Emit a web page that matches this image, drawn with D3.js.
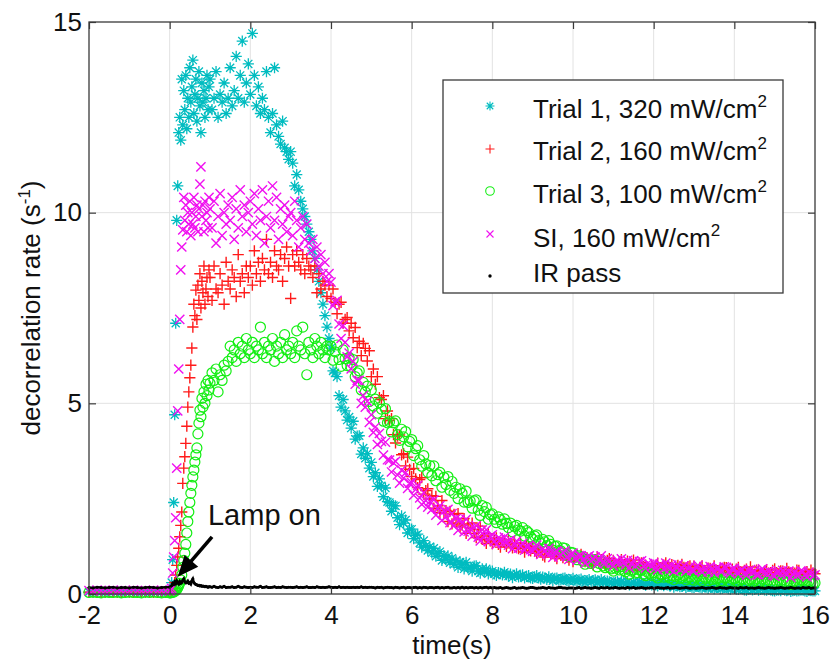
<!DOCTYPE html>
<html><head><meta charset="utf-8">
<script src="https://cdn.jsdelivr.net/npm/d3@7"></script>
<style>
body{margin:0;background:#fff}
svg{display:block}
text{font-family:"Liberation Sans",Arial,Helvetica,sans-serif;fill:#111}
</style>
</head><body>
<svg id="chart" width="834" height="660"></svg>
<script>
// ---------------- DATA ----------------
// sampling grid (s): pre-lamp, rise, plateau/decay, tail
const timePre  = d3.range(20).map(i => -2 + i * 0.1);    // -2.0 .. -0.1
const timeRise = d3.range(40).map(i => i * 0.025);       //  0.0 .. 0.975
const timeMid  = d3.range(140).map(i => 1 + i * 0.05);   //  1.0 .. 7.95
const timeTail = d3.range(161).map(i => 8 + i * 0.05);   //  8.0 .. 16.0
const time = timePre.concat(timeRise, timeMid, timeTail);

const xTickValues = [-2, 0, 2, 4, 6, 8, 10, 12, 14, 16];
const xTickLabels = ["-2", "0", "2", "4", "6", "8", "10", "12", "14", "16"];
const yTickValues = [0, 5, 10, 15];
const yTickLabels = ["0", "5", "10", "15"];

const seriesNames = ["Trial 1, 320 mW/cm", "Trial 2, 160 mW/cm", "Trial 3, 100 mW/cm", "SI, 160 mW/cm", "IR pass"];
const seriesSup   = ["2", "2", "2", "2", ""];

// Trial 1, 320 mW/cm2
const trial1 = [
  0.05,0.04,0.06,0.05,0.04,0.05,0.06,0.05,0.04,0.05,
  0.05,0.06,0.04,0.05,0.05,0.04,0.06,0.05,0.05,0.04,
  // rise 0..0.975
  0.05,0.1,0.3,0.9,2.4,4.7,7.1,9.8,10.7,12.1,
  12.5,11.9,13.5,12.3,13.2,12.7,13.6,12.2,13.0,12.5,
  13.8,12.9,13.3,14.0,12.6,13.1,13.5,12.4,13.0,13.7,
  12.8,12.1,13.4,12.9,13.2,12.5,13.0,13.6,12.7,13.3,
  // 1.0 .. 7.95
  13.5,12.7,13.0,13.7,12.5,13.1,12.9,13.4,12.6,13.0,
  13.8,12.8,13.2,14.1,13.0,13.6,14.5,12.9,13.4,13.9,
  13.1,14.7,13.6,12.8,13.3,12.6,13.0,12.7,13.7,12.5,
  12.1,12.6,13.8,12.3,12.0,11.8,12.4,11.7,11.6,11.4,
  11.6,11.3,10.7,11.0,10.6,10.3,10.1,9.9,9.7,9.5,
  9.3,9.0,8.8,8.5,8.2,7.9,7.6,7.3,7.0,6.7,
  6.45,5.85,5.8,5.7,5.2,4.9,5.1,4.8,4.56,4.64,
  4.35,4.53,4.06,4.14,4.15,3.67,3.83,3.56,3.68,3.3,
  3.45,3.08,3.18,2.82,3.02,2.84,2.55,2.78,2.42,2.4,
  2.17,2.32,2.31,2.0,1.82,2.05,1.86,1.94,1.6,1.7,
  1.7,1.45,1.54,1.57,1.34,1.23,1.4,1.26,1.14,1.24,
  1.08,1.2,0.99,1.06,1.11,0.88,1.01,0.9,1.0,0.82,
  0.94,0.78,0.87,0.7,0.84,0.78,0.66,0.83,0.68,0.7,
  0.6,0.73,0.74,0.6,0.55,0.66,0.6,0.66,0.53,0.58,
  // 8.0 .. 16.0
  0.6,0.53,0.49,0.56,0.54,0.5,0.57,0.51,0.47,0.52,0.43,0.49,0.53,0.45,0.47,0.5,0.42,0.46,0.48,0.42,
  0.41,0.45,0.48,0.42,0.39,0.44,0.42,0.38,0.45,0.4,0.35,0.41,0.42,0.36,0.37,0.41,0.42,0.35,0.34,0.38,
  0.41,0.36,0.33,0.37,0.39,0.34,0.3,0.35,0.38,0.32,0.35,0.37,0.29,0.33,0.38,0.31,0.3,0.34,0.32,0.29,
  0.26,0.31,0.33,0.28,0.33,0.29,0.27,0.31,0.24,0.28,0.3,0.26,0.27,0.31,0.31,0.26,0.23,0.28,0.27,0.24,
  0.28,0.24,0.21,0.26,0.25,0.22,0.28,0.24,0.21,0.25,0.18,0.22,0.23,0.19,0.2,0.23,0.17,0.2,0.22,0.18,
  0.17,0.2,0.22,0.18,0.16,0.2,0.18,0.15,0.2,0.17,0.14,0.17,0.18,0.14,0.15,0.18,0.18,0.14,0.13,0.16,
  0.16,0.13,0.12,0.15,0.14,0.11,0.1,0.13,0.14,0.11,0.12,0.14,0.1,0.12,0.14,0.11,0.1,0.13,0.11,0.09,
  0.08,0.1,0.11,0.09,0.12,0.1,0.09,0.11,0.07,0.09,0.1,0.08,0.09,0.11,0.11,0.08,0.07,0.1,0.09,0.08,
  0.08
];

// Trial 2, 160 mW/cm2
const trial2 = [
  0.05,0.06,0.05,0.04,0.05,0.06,0.05,0.05,0.04,0.06,
  0.05,0.04,0.05,0.06,0.05,0.05,0.04,0.05,0.06,0.05,
  0.05,0.05,0.07,0.1,0.15,0.3,0.5,0.75,0.97,1.2,
  1.5,1.8,2.15,2.9,3.3,3.6,3.95,4.4,4.9,5.3,
  5.67,6.0,6.45,7.0,7.6,7.3,7.97,7.2,8.1,7.7,
  8.4,7.5,8.2,7.9,8.6,7.6,8.0,8.3,7.8,8.5,
  8.3,7.7,8.6,8.0,7.9,8.4,8.1,7.6,8.7,8.2,
  8.0,8.5,8.3,7.8,8.9,8.2,8.4,7.9,8.6,8.3,
  8.6,8.1,9.0,8.4,8.7,8.2,8.8,8.5,9.3,8.4,
  8.7,8.3,9.0,8.6,8.5,8.9,8.2,8.8,9.1,8.6,
  7.75,8.9,8.6,9.0,8.7,8.5,8.9,8.4,8.8,8.6,
  8.5,8.3,8.6,7.9,8.4,8.0,8.2,8.1,7.8,8.1,
  7.75,8.0,7.65,7.35,7.6,7.65,7.1,7.2,7.25,6.9,
  7.1,6.72,6.99,6.46,6.63,6.25,6.57,6.44,6.11,6.38,
  5.7,5.9,5.5,5.7,5.15,5.1,5.2,4.6,4.8,4.55,
  4.6,4.18,3.96,4.14,4.17,3.65,3.68,3.36,3.59,3.27,
  3.08,3.29,3.02,2.79,3.0,3.05,2.62,2.71,2.76,2.49,
  2.58,2.25,2.56,2.31,2.14,2.45,2.12,2.19,1.9,2.17,
  1.84,2.09,1.86,2.11,1.76,1.81,1.98,1.59,1.84,1.73,
  1.86,1.59,1.48,1.69,1.78,1.43,1.52,1.33,1.58,1.39,
  1.32,1.41,1.47,1.3,1.23,1.37,1.36,1.25,1.42,1.31,1.21,1.34,1.25,1.19,1.32,1.2,1.1,1.26,1.23,1.13,
  1.25,1.12,1.07,1.18,1.15,1.02,0.97,1.1,1.15,1.06,1.17,0.99,0.93,1.06,1.01,0.95,1.05,0.96,0.89,1.0,
  0.85,0.97,1.02,0.9,1.04,0.92,0.85,0.95,0.9,0.8,0.76,0.9,0.97,0.84,0.9,0.81,0.76,0.88,0.93,0.8,
  0.88,0.78,0.71,0.85,0.9,0.76,0.79,0.86,0.7,0.8,0.89,0.74,0.7,0.81,0.82,0.72,0.76,0.69,0.63,0.75,
  0.66,0.75,0.81,0.69,0.63,0.76,0.82,0.67,0.7,0.77,0.59,0.68,0.75,0.64,0.78,0.7,0.63,0.72,0.74,0.62,
  0.73,0.64,0.58,0.7,0.74,0.62,0.56,0.68,0.67,0.59,0.74,0.63,0.52,0.66,0.62,0.7,0.69,0.57,0.56,0.65,
  0.56,0.65,0.7,0.58,0.51,0.62,0.65,0.55,0.71,0.6,0.52,0.63,0.61,0.53,0.47,0.6,0.64,0.55,0.56,0.62,
  0.66,0.56,0.5,0.61,0.6,0.52,0.67,0.58,0.47,0.57,0.55,0.63,0.62,0.51,0.44,0.56,0.59,0.53,0.63,0.55,
  0.53
];

// Trial 3, 100 mW/cm2
const trial3 = [
  0.04,0.05,0.04,0.03,0.05,0.04,0.04,0.05,0.03,0.04,
  0.05,0.04,0.04,0.03,0.05,0.04,0.05,0.04,0.03,0.04,
  0.03,0.03,0.04,0.05,0.05,0.07,0.09,0.12,0.16,0.22,
  0.28,0.37,0.5,0.7,0.88,1.07,1.3,1.6,1.9,2.15,
  2.4,2.64,2.85,3.07,3.25,3.46,3.65,3.83,4.2,4.48,
  4.82,4.65,5.13,4.9,5.3,5.0,5.5,5.2,5.6,5.35,
  5.53,5.8,5.6,5.9,5.3,5.75,5.6,6.0,5.85,6.1,
  6.5,6.2,6.4,6.1,6.6,6.3,6.5,6.2,6.7,6.4,
  6.3,6.6,6.2,6.5,6.4,7.0,6.3,6.6,6.2,6.5,
  6.4,6.7,6.1,6.5,6.3,6.6,6.2,6.8,6.4,6.5,
  6.3,6.6,6.2,6.9,6.5,6.4,7.0,6.3,5.75,6.6,
  6.4,6.2,6.7,6.5,6.3,6.6,6.4,6.2,6.5,6.4,
  6.5,6.13,6.35,6.53,6.15,5.97,6.4,6.17,5.99,6.2,
  5.95,6.15,5.7,5.8,5.85,5.35,5.55,5.3,5.45,5.05,
  5.35,4.93,5.11,4.74,5.02,4.85,4.53,4.86,4.49,4.52,
  4.25,4.49,4.54,4.18,4.03,4.32,4.12,4.26,3.86,4.0,
  4.05,3.63,3.81,3.89,3.52,3.35,3.63,3.41,3.19,3.37,
  3.1,3.36,2.97,3.13,3.19,2.8,3.06,2.87,3.08,2.72,
  2.95,2.64,2.8,2.5,2.76,2.64,2.41,2.7,2.4,2.44,
  2.25,2.44,2.47,2.2,2.06,2.32,2.16,2.27,1.96,2.08,
  2.1,1.96,1.87,2.02,1.95,1.83,1.97,1.85,1.74,1.86,1.63,1.77,1.8,1.68,1.65,1.74,1.52,1.66,1.61,1.5,
  1.44,1.52,1.55,1.4,1.32,1.43,1.37,1.27,1.4,1.3,1.15,1.25,1.26,1.14,1.13,1.21,1.2,1.06,0.99,1.09,
  1.08,0.96,0.9,1.0,0.97,0.86,0.78,0.9,0.91,0.8,0.84,0.9,0.71,0.8,0.86,0.74,0.69,0.78,0.7,0.66,
  0.6,0.68,0.72,0.63,0.72,0.62,0.58,0.66,0.52,0.6,0.63,0.55,0.56,0.63,0.62,0.52,0.48,0.57,0.54,0.49,
  0.56,0.47,0.42,0.52,0.5,0.44,0.54,0.47,0.42,0.49,0.38,0.46,0.5,0.41,0.43,0.48,0.37,0.42,0.45,0.38,
  0.36,0.43,0.47,0.39,0.34,0.44,0.41,0.35,0.44,0.38,0.31,0.4,0.41,0.33,0.35,0.42,0.42,0.34,0.32,0.39,
  0.4,0.34,0.31,0.37,0.38,0.32,0.28,0.35,0.38,0.31,0.35,0.39,0.28,0.33,0.39,0.31,0.3,0.36,0.32,0.28,
  0.27,0.33,0.36,0.3,0.37,0.32,0.29,0.35,0.25,0.31,0.34,0.28,0.3,0.36,0.35,0.29,0.26,0.33,0.31,0.27,
  0.29
];

// SI, 160 mW/cm2
const trialSI = [
  0.09,0.08,0.1,0.09,0.08,0.09,0.1,0.08,0.09,0.09,
  0.08,0.1,0.09,0.08,0.09,0.09,0.1,0.08,0.09,0.08,
  0.08,0.1,0.15,0.55,0.97,1.4,2.0,3.3,4.8,5.9,
  7.2,8.5,9.1,9.55,10.4,9.8,10.2,9.5,10.0,9.7,
  10.3,9.4,10.0,9.7,10.4,9.6,9.9,10.2,9.5,10.1,
  10.75,11.2,9.9,10.2,9.5,10.3,9.8,10.0,9.6,10.4,
  10.1,9.6,10.3,9.2,9.9,10.5,9.4,10.0,9.7,10.2,
  9.8,10.4,9.3,10.1,9.6,10.6,9.9,10.2,9.5,10.0,
  10.3,9.7,10.5,9.4,10.1,9.8,10.6,9.2,9.9,10.3,
  9.6,10.7,9.8,10.4,9.3,10.1,9.7,10.2,9.5,9.9,
  10.0,9.4,10.3,9.8,9.1,9.6,9.9,9.3,9.7,9.2,
  9.0,9.3,8.8,9.1,8.6,8.9,8.4,8.7,8.2,8.4,
  8.18,7.56,7.66,7.7,7.08,6.7,7.04,6.6,6.22,6.32,
  5.9,6.1,5.5,5.6,5.6,5.0,5.2,4.9,5.05,4.5,
  4.7,4.24,4.38,3.92,4.21,4.0,3.64,3.98,3.52,3.51,
  3.2,3.44,3.48,3.12,2.91,3.25,3.04,3.18,2.77,2.91,
  2.92,2.59,2.74,2.85,2.52,2.35,2.66,2.45,2.28,2.43,
  2.22,2.47,2.07,2.24,2.32,1.93,2.17,2.02,2.22,1.87,
  2.11,1.8,1.98,1.67,1.96,1.86,1.63,1.96,1.65,1.71,
  1.52,1.74,1.79,1.49,1.39,1.68,1.54,1.68,1.37,1.51,
  1.55,1.38,1.3,1.47,1.44,1.33,1.49,1.36,1.28,1.42,1.19,1.3,1.39,1.2,1.26,1.33,1.15,1.24,1.27,1.16,
  1.12,1.21,1.28,1.1,1.04,1.19,1.14,1.05,1.2,1.08,0.96,1.1,1.12,0.99,1.02,1.09,1.13,0.97,0.91,1.04,
  1.07,0.95,0.88,1.01,1.0,0.9,0.81,0.96,1.0,0.86,0.92,0.97,0.79,0.9,1.0,0.84,0.81,0.93,0.85,0.8,
  0.74,0.84,0.89,0.8,0.92,0.83,0.76,0.88,0.68,0.79,0.87,0.74,0.78,0.85,0.87,0.73,0.68,0.8,0.78,0.72,
  0.82,0.7,0.63,0.77,0.75,0.66,0.81,0.72,0.65,0.76,0.6,0.71,0.77,0.64,0.68,0.74,0.6,0.67,0.71,0.62,
  0.61,0.7,0.75,0.63,0.57,0.69,0.66,0.58,0.72,0.64,0.55,0.67,0.69,0.6,0.6,0.71,0.7,0.58,0.54,0.65,
  0.68,0.58,0.53,0.62,0.64,0.55,0.49,0.6,0.64,0.56,0.6,0.51,0.5,0.62,0.66,0.57,0.52,0.61,0.56,0.5,
  0.47,0.56,0.6,0.52,0.62,0.55,0.5,0.6,0.43,0.52,0.58,0.49,0.52,0.61,0.59,0.5,0.45,0.57,0.53,0.48,
  0.5
];

// IR pass
const irPass = [
  0.17,0.16,0.18,0.17,0.16,0.17,0.18,0.16,0.17,0.17,
  0.16,0.18,0.17,0.16,0.17,0.18,0.17,0.16,0.17,0.18,
  0.18,0.2,0.22,0.28,0.25,0.32,0.27,0.35,0.3,0.26,
  0.33,0.28,0.3,0.36,0.4,0.32,0.29,0.3,0.34,0.28,
  0.3,0.26,0.35,0.4,0.3,0.27,0.25,0.24,0.22,0.23,
  0.21,0.22,0.2,0.21,0.2,0.19,0.2,0.19,0.18,0.19,
  0.19,0.18,0.2,0.18,0.17,0.19,0.18,0.2,0.17,0.18,
  0.18,0.19,0.17,0.18,0.2,0.18,0.17,0.19,0.18,0.17,
  0.18,0.17,0.19,0.18,0.18,0.2,0.17,0.18,0.19,0.17,
  0.17,0.18,0.19,0.17,0.18,0.17,0.19,0.18,0.17,0.18,
  0.18,0.17,0.18,0.19,0.17,0.18,0.17,0.18,0.19,0.17,
  0.17,0.18,0.17,0.19,0.18,0.17,0.18,0.17,0.18,0.19,
  0.18,0.17,0.18,0.17,0.19,0.17,0.18,0.17,0.18,0.17,
  0.17,0.18,0.17,0.18,0.17,0.19,0.17,0.18,0.17,0.18,
  0.18,0.17,0.16,0.18,0.17,0.18,0.16,0.17,0.18,0.17,
  0.17,0.16,0.18,0.17,0.16,0.17,0.18,0.16,0.17,0.17,
  0.16,0.17,0.18,0.16,0.17,0.16,0.18,0.17,0.16,0.17,
  0.17,0.16,0.17,0.18,0.16,0.17,0.16,0.17,0.18,0.16,
  0.16,0.17,0.16,0.17,0.16,0.18,0.16,0.17,0.16,0.17,
  0.17,0.16,0.17,0.16,0.17,0.16,0.17,0.18,0.16,0.17,
  0.16,0.17,0.16,0.16,0.17,0.15,0.16,0.17,0.16,0.15,0.16,0.17,0.15,0.16,0.16,0.17,0.16,0.15,0.16,0.17,
  0.17,0.16,0.15,0.16,0.16,0.17,0.16,0.15,0.17,0.16,0.16,0.15,0.16,0.17,0.17,0.16,0.16,0.15,0.16,0.16,
  0.16,0.15,0.16,0.17,0.15,0.16,0.17,0.16,0.16,0.15,0.16,0.17,0.16,0.15,0.17,0.16,0.16,0.17,0.15,0.16,
  0.16,0.17,0.16,0.15,0.16,0.16,0.15,0.17,0.16,0.16,0.17,0.15,0.16,0.16,0.17,0.16,0.15,0.16,0.16,0.17,
  0.15,0.16,0.17,0.16,0.16,0.15,0.16,0.17,0.15,0.16,0.16,0.17,0.16,0.15,0.16,0.16,0.17,0.16,0.15,0.16,
  0.16,0.15,0.16,0.16,0.17,0.16,0.15,0.16,0.16,0.17,0.16,0.15,0.16,0.17,0.16,0.16,0.15,0.16,0.17,0.16,
  0.16,0.16,0.15,0.17,0.16,0.16,0.17,0.15,0.16,0.16,0.15,0.16,0.17,0.16,0.16,0.15,0.16,0.17,0.16,0.16,
  0.15,0.16,0.16,0.17,0.16,0.15,0.16,0.16,0.17,0.16,0.15,0.16,0.16,0.15,0.17,0.16,0.16,0.17,0.15,0.16,
  0.16
];

// annotation
const lampText = "Lamp on";
const lampArrowFrom = [1.05, 1.5];   // [time, rate]
const lampArrowTo   = [0.2, 0.45];
const lampTextAt    = [0.95, 1.8];

// ---------------- STYLE / CONFIG ----------------
const series = [
  { values: trial1,  color: "#00bcc0", marker: "star",   size: 5.6, sw: 1.3 },
  { values: trial2,  color: "#ff1a1a", marker: "plus",   size: 5.6, sw: 1.4 },
  { values: trial3,  color: "#14ee14", marker: "circle", size: 5.0, sw: 1.2 },
  { values: trialSI, color: "#f010f0", marker: "cross",  size: 4.6, sw: 1.4 },
  { values: irPass,  color: "#000000", marker: "dot",    size: 1.5, sw: 0 }
];

const plot = { left: 89, right: 815, top: 22, bottom: 594 };
const x = d3.scaleLinear().domain([-2, 16]).range([plot.left, plot.right]);
const y = d3.scaleLinear().domain([0, 15]).range([plot.bottom, plot.top]);

const svg = d3.select("#chart");

function markerPath(type, s) {
  const c = s * 0.72;
  if (type === "plus") return `M${-s},0H${s}M0,${-s}V${s}`;
  if (type === "cross") return `M${-s},${-s}L${s},${s}M${-s},${s}L${s},${-s}`;
  if (type === "star") return `M${-s},0H${s}M0,${-s}V${s}M${-c},${-c}L${c},${c}M${-c},${c}L${c},${-c}`;
  return "";
}

// grid
const grid = svg.append("g").attr("stroke", "#e2e2e2").attr("stroke-width", 1);
grid.selectAll("line.gx").data(xTickValues.slice(1, -1)).join("line")
  .attr("x1", d => x(d)).attr("x2", d => x(d)).attr("y1", plot.top).attr("y2", plot.bottom);
grid.selectAll("line.gy").data(yTickValues.slice(1, -1)).join("line")
  .attr("x1", plot.left).attr("x2", plot.right).attr("y1", d => y(d)).attr("y2", d => y(d));

// data
const dataG = svg.append("g");
series.forEach(s => {
  const pts = time.map((t, i) => [t, s.values[i]]).filter(d => d[1] != null);
  const g = dataG.append("g");
  if (s.marker === "circle") {
    g.attr("fill", "none").attr("stroke", s.color).attr("stroke-width", s.sw)
      .selectAll("circle").data(pts).join("circle")
      .attr("cx", d => x(d[0])).attr("cy", d => y(d[1])).attr("r", s.size);
  } else if (s.marker === "dot") {
    g.append("path").datum(pts)
      .attr("fill", "none").attr("stroke", s.color).attr("stroke-width", 2.4)
      .attr("d", d3.line().x(d => x(d[0])).y(d => y(d[1])));
    g.attr("fill", s.color).selectAll("circle").data(pts).join("circle")
      .attr("cx", d => x(d[0])).attr("cy", d => y(d[1])).attr("r", s.size);
  } else {
    const p = markerPath(s.marker, s.size);
    g.attr("fill", "none").attr("stroke", s.color).attr("stroke-width", s.sw)
      .selectAll("path").data(pts).join("path")
      .attr("d", p).attr("transform", d => `translate(${x(d[0])},${y(d[1])})`);
  }
});

// axes (inward ticks on all four sides)
const fontSize = 26;
const xAxis = d3.axisBottom(x).tickValues(xTickValues)
  .tickFormat((d, i) => xTickLabels[i]).tickSizeInner(-7).tickSizeOuter(0).tickPadding(12);
const yAxis = d3.axisLeft(y).tickValues(yTickValues)
  .tickFormat((d, i) => yTickLabels[i]).tickSizeInner(-7).tickSizeOuter(0).tickPadding(7);
const xTop = d3.axisTop(x).tickValues(xTickValues).tickFormat("").tickSizeInner(-7).tickSizeOuter(0);
const yRight = d3.axisRight(y).tickValues(yTickValues).tickFormat("").tickSizeInner(-7).tickSizeOuter(0);

function styleAxis(g) {
  g.select(".domain").remove();
  g.selectAll(".tick line").attr("stroke", "#3a3a3a").attr("stroke-width", 1.2);
  g.selectAll(".tick text").attr("font-size", fontSize).attr("fill", "#111")
    .attr("font-family", "Liberation Sans, Arial, sans-serif");
}
svg.append("g").attr("transform", `translate(0,${plot.bottom})`).call(xAxis).call(styleAxis);
svg.append("g").attr("transform", `translate(${plot.left},0)`).call(yAxis).call(styleAxis);
svg.append("g").attr("transform", `translate(0,${plot.top})`).call(xTop).call(styleAxis);
svg.append("g").attr("transform", `translate(${plot.right},0)`).call(yRight).call(styleAxis);

svg.append("rect").attr("x", plot.left).attr("y", plot.top)
  .attr("width", plot.right - plot.left).attr("height", plot.bottom - plot.top)
  .attr("fill", "none").attr("stroke", "#3a3a3a").attr("stroke-width", 1.3);

// axis labels
svg.append("text").attr("x", (plot.left + plot.right) / 2).attr("y", 654)
  .attr("text-anchor", "middle").attr("font-size", fontSize).text("time(s)");
const yl = svg.append("text")
  .attr("transform", `translate(40,${(plot.top + plot.bottom) / 2}) rotate(-90)`)
  .attr("text-anchor", "middle").attr("font-size", fontSize);
yl.append("tspan").text("decorrelation rate (s");
yl.append("tspan").attr("font-size", 17).attr("dy", -10).text("-1");
yl.append("tspan").attr("dy", 10).text(")");

// legend
const lg = svg.append("g");
lg.append("rect").attr("x", 443).attr("y", 80).attr("width", 340).attr("height", 213)
  .attr("fill", "#fff").attr("stroke", "#3a3a3a").attr("stroke-width", 1.3);
const legendBase = [118, 160, 203, 247, 282];
const legendMarkY = [106, 149, 191, 234, 276];
series.forEach((s, i) => {
  const mx = 490, my = legendMarkY[i];
  if (s.marker === "circle") {
    lg.append("circle").attr("cx", mx).attr("cy", my).attr("r", 4.3).attr("fill", "none")
      .attr("stroke", s.color).attr("stroke-width", 1.1);
  } else if (s.marker === "dot") {
    lg.append("circle").attr("cx", mx).attr("cy", my).attr("r", 1.7).attr("fill", s.color);
  } else {
    lg.append("path").attr("d", markerPath(s.marker, s.marker === "cross" ? 3.5 : 4.5))
      .attr("transform", `translate(${mx},${my})`).attr("fill", "none")
      .attr("stroke", s.color).attr("stroke-width", 1.1);
  }
  const t = lg.append("text").attr("x", 533).attr("y", legendBase[i]).attr("font-size", fontSize);
  t.append("tspan").text(seriesNames[i]);
  if (seriesSup[i]) t.append("tspan").attr("font-size", 17).attr("dy", -11).text(seriesSup[i]);
});

// annotation arrow (head drawn as polygon)
const P = [x(lampArrowTo[0]), y(lampArrowTo[1])];
const Q = [x(lampArrowFrom[0]), y(lampArrowFrom[1])];
const len = Math.hypot(P[0] - Q[0], P[1] - Q[1]);
const u = [(P[0] - Q[0]) / len, (P[1] - Q[1]) / len];
const nrm = [-u[1], u[0]];
const headL = 21, headW = 9;
const B = [P[0] - u[0] * headL, P[1] - u[1] * headL];
svg.append("line").attr("x1", Q[0]).attr("y1", Q[1]).attr("x2", B[0] + u[0] * 2).attr("y2", B[1] + u[1] * 2)
  .attr("stroke", "#000").attr("stroke-width", 3.6);
svg.append("path")
  .attr("d", `M${P[0]},${P[1]}L${B[0] + nrm[0] * headW},${B[1] + nrm[1] * headW}L${B[0] - nrm[0] * headW},${B[1] - nrm[1] * headW}Z`)
  .attr("fill", "#000");
svg.append("text").attr("x", x(lampTextAt[0])).attr("y", y(lampTextAt[1]))
  .attr("font-size", 29).text(lampText);
</script>
</body></html>
